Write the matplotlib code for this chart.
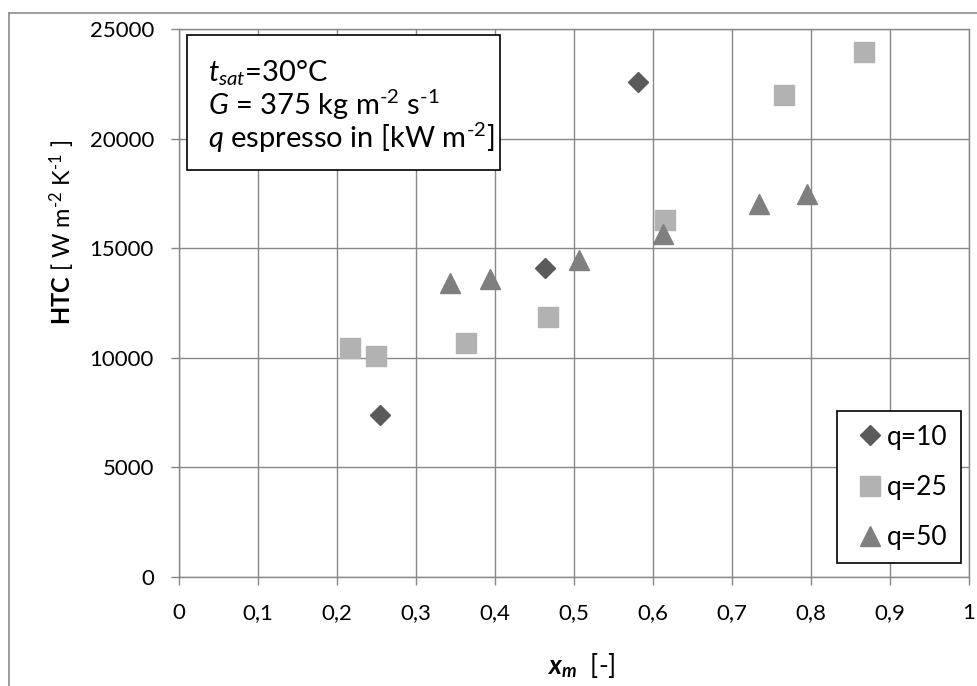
import matplotlib
matplotlib.use("Agg")
import matplotlib.pyplot as plt
from matplotlib.lines import Line2D
from matplotlib.patches import Rectangle

# font setup (Calibri-like look)
plt.rcParams['font.family'] = ['Lato', 'DejaVu Sans']
plt.rcParams['mathtext.fontset'] = 'custom'
plt.rcParams['mathtext.rm'] = 'Lato'
plt.rcParams['mathtext.it'] = 'Lato:italic'
plt.rcParams['mathtext.bf'] = 'Lato:bold'
plt.rcParams['mathtext.bfit'] = 'Lato:italic:bold'

# data
x_q10 = [0.254, 0.463, 0.581]
htc_q10 = [7400, 14100, 22600]

x_q25 = [0.216, 0.249, 0.363, 0.467, 0.615, 0.766, 0.867]
htc_q25 = [10450, 10100, 10680, 11860, 16300, 22000, 23950]

x_q50 = [0.343, 0.394, 0.506, 0.613, 0.734, 0.795]
htc_q50 = [13400, 13600, 14450, 15650, 17000, 17450]

labels = ["q=10", "q=25", "q=50"]
x_ticks = [0, 0.1, 0.2, 0.3, 0.4, 0.5, 0.6, 0.7, 0.8, 0.9, 1]
x_tick_labels = ["0", "0,1", "0,2", "0,3", "0,4", "0,5", "0,6", "0,7", "0,8", "0,9", "1"]
y_ticks = [0, 5000, 10000, 15000, 20000, 25000]

W, H = 977, 686
grid_col = '#888888'

fig = plt.figure(figsize=(W / 100, H / 100), dpi=100)
ax = fig.add_axes([179 / W, 1 - 577 / H, 790 / W, 548 / H])

ax.plot(x_q10, htc_q10, linestyle='none', marker='D', ms=10.5,
        color='#5a5a5a', label=labels[0], zorder=3)
ax.plot(x_q25, htc_q25, linestyle='none', marker='s', ms=14,
        color='#b2b2b2', label=labels[1], zorder=3)
ax.plot(x_q50, htc_q50, linestyle='none', marker='^', ms=14.5,
        color='#7f7f7f', label=labels[2], zorder=3)

ax.set_xlim(0, 1)
ax.set_ylim(0, 25000)
ax.set_xticks(x_ticks)
ax.set_xticklabels(x_tick_labels)
ax.set_yticks(y_ticks)
ax.grid(True, color=grid_col, linewidth=1.0)
ax.set_axisbelow(True)
for s in ax.spines.values():
    s.set_color(grid_col)
    s.set_linewidth(1.0)
ax.tick_params(axis='x', length=6, width=1.0, color=grid_col, pad=13, labelsize=16)
ax.tick_params(axis='y', length=6, width=1.0, color=grid_col, pad=12, labelsize=16)

# axis titles
fig.text(62 / W, 1 - 232 / H, r"$\mathbf{HTC}$ [ W m$^{\text{-2}}$ K$^{\text{-1}}$ ]",
         rotation=90, ha='center', va='center', fontsize=17)
fig.text(581 / W, 1 - 665 / H, r"$\mathbfit{x}_{\mathbfit{m}}$  [-]",
         ha='center', va='center', fontsize=19)

# info box
box = Rectangle((187 / W, 1 - 170 / H), 313 / W, 135 / H, transform=fig.transFigure,
                facecolor='white', edgecolor='black', linewidth=1.2, zorder=5)
fig.add_artist(box)
tx = 208 / W
fig.text(tx, 1 - 81 / H, r"$\mathit{t}_{\mathit{sat}}$=30°C", fontsize=21,
         va='baseline', zorder=6)
fig.text(tx, 1 - 115 / H, r"$\mathit{G}$ = 375 kg m$^{\text{-2}}$ s$^{\text{-1}}$", fontsize=21,
         va='baseline', zorder=6)
fig.text(tx, 1 - 148 / H, r"$\mathit{q}$ espresso in [kW m$^{\text{-2}}$]", fontsize=21,
         va='baseline', zorder=6)

leg = ax.legend(loc='lower right', bbox_to_anchor=((961 - 179) / 790, (577 - 563) / 548),
                borderaxespad=0, fontsize=19, frameon=True, fancybox=False,
                edgecolor='black', framealpha=1, numpoints=1, labelspacing=0.95,
                borderpad=0.5, handlelength=1.5, handletextpad=-0.1)
leg.get_frame().set_linewidth(1.2)

# outer chart frame (left and top edges visible)
fig.add_artist(Line2D([9 / W, 9 / W], [0, 1 - 13 / H], transform=fig.transFigure,
                      color='#8c8c8c', linewidth=1.2))
fig.add_artist(Line2D([9 / W, 1], [1 - 13 / H, 1 - 13 / H], transform=fig.transFigure,
                      color='#8c8c8c', linewidth=1.2))

fig.savefig("out.png", dpi=100)
